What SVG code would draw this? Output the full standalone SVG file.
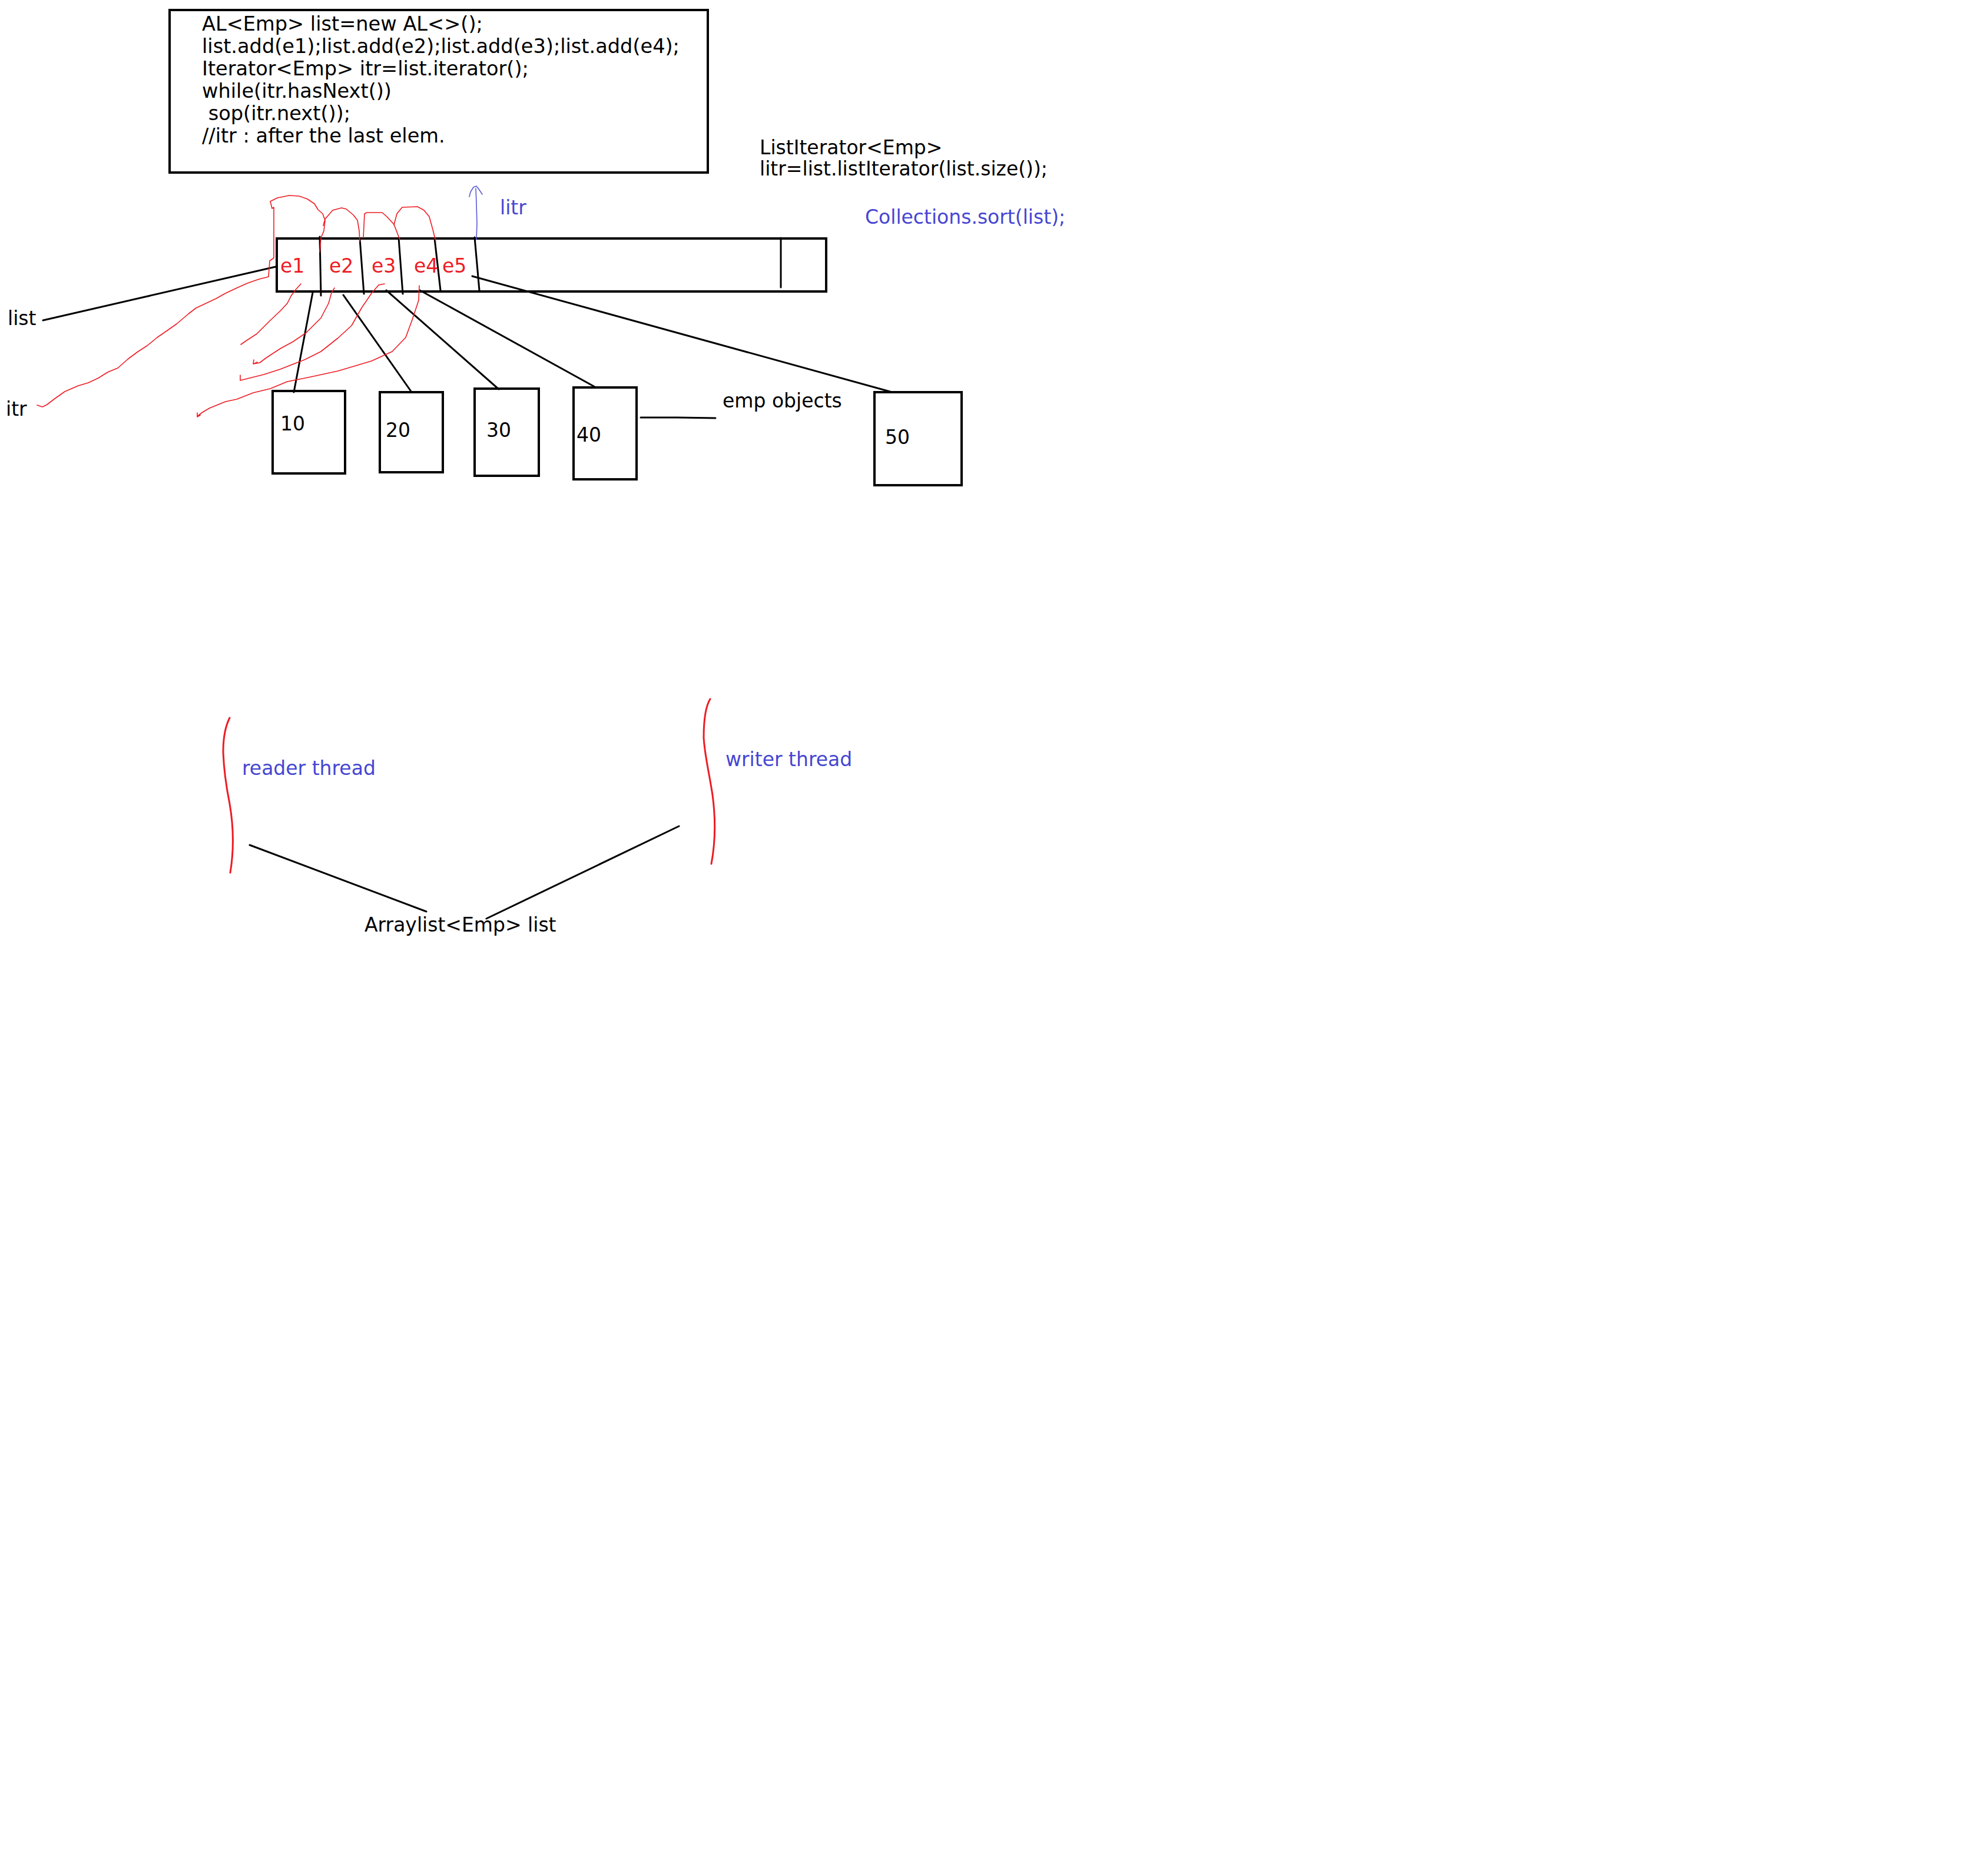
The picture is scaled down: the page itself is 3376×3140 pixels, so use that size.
<svg xmlns="http://www.w3.org/2000/svg" width="3376" height="3140" viewBox="0 0 3376 3140">
  <style>
    text { font-family: "DejaVu Sans", Verdana, sans-serif; font-size: 33px; fill: #000; }
    .code { font-size: 33.6px; }
    .blue { fill: #4646d2; }
    .red { fill: #ed1c24; }
    .box { fill: #fff; stroke: #000; stroke-width: 4; }
    .edge { fill: none; stroke: #000; stroke-width: 3; stroke-linecap: round; }
    .pen { fill: none; stroke: #ed1c24; stroke-width: 1.6; stroke-linejoin: round; stroke-linecap: round; }
    .brace { fill: none; stroke: #ed1c24; stroke-width: 3; stroke-linecap: round; }
    .bluepen { fill: none; stroke: #5a5ad8; stroke-width: 1.6; stroke-linecap: round; stroke-linejoin: round; }
  </style>
  <rect width="3376" height="3140" fill="#fff"/>

  <!-- code listing -->
  <g id="code-box">
    <rect class="box" x="288" y="17" width="914" height="276"/>
    <text class="code" x="343" y="52">AL&lt;Emp&gt; list=new AL&lt;&gt;();</text>
    <text class="code" x="343" y="90">list.add(e1);list.add(e2);list.add(e3);list.add(e4);</text>
    <text class="code" x="343" y="128">Iterator&lt;Emp&gt; itr=list.iterator();</text>
    <text class="code" x="343" y="166">while(itr.hasNext())</text>
    <text class="code" x="343" y="204" xml:space="preserve"> sop(itr.next());</text>
    <text class="code" x="343" y="242">//itr : after the last elem.</text>
  </g>

  <g id="list-iterator-note">
    <text x="1290" y="262" font-size="33.3">ListIterator&lt;Emp&gt;</text>
    <text x="1290" y="298" font-size="33.3">litr=list.listIterator(list.size());</text>
  </g>

  <g id="sort-note">
    <text class="blue" x="1469" y="380">Collections.sort(list);</text>
  </g>

  <!-- backing array with slots -->
  <g id="array">
    <rect class="box" x="470" y="405" width="933" height="90"/>
    <line class="edge" x1="543" y1="402" x2="545" y2="502"/>
    <line class="edge" x1="611" y1="405" x2="618" y2="499"/>
    <line class="edge" x1="677" y1="404" x2="684" y2="499"/>
    <line class="edge" x1="738" y1="405" x2="748" y2="493"/>
    <line class="edge" x1="806" y1="403" x2="814" y2="493"/>
    <line class="edge" x1="1326" y1="404" x2="1326" y2="488"/>
    <text class="red" x="476" y="463">e1</text>
    <text class="red" x="559" y="463">e2</text>
    <text class="red" x="631" y="463">e3</text>
    <text class="red" x="703" y="463">e4</text>
    <text class="red" x="751" y="463">e5</text>
  </g>

  <g id="label-list"><text x="13" y="552">list</text></g>
  <g id="label-itr"><text x="10" y="706">itr</text></g>
  <g id="label-litr"><text class="blue" x="849" y="364">litr</text></g>
  <g id="label-emp-objects"><text x="1227" y="692">emp objects</text></g>

  <!-- employee objects -->
  <g id="emp-10">
    <rect class="box" x="463" y="664" width="123" height="140"/>
    <text x="476" y="731">10</text>
  </g>
  <g id="emp-20">
    <rect class="box" x="645" y="666" width="107" height="136"/>
    <text x="655" y="742">20</text>
  </g>
  <g id="emp-30">
    <rect class="box" x="806" y="660" width="109" height="148"/>
    <text x="826" y="742">30</text>
  </g>
  <g id="emp-40">
    <rect class="box" x="974" y="658" width="107" height="156"/>
    <text x="979" y="750">40</text>
  </g>
  <g id="emp-50">
    <rect class="box" x="1485" y="666" width="148" height="158"/>
    <text x="1503" y="754">50</text>
  </g>

  <!-- thread sketch -->
  <g id="reader-thread">
    <path class="brace" d="M390,1219 C382,1235 379,1255 379,1277 C380,1305 383,1330 390,1365 C396,1400 398,1440 391,1482"/>
    <text class="blue" x="411" y="1316">reader thread</text>
  </g>
  <g id="writer-thread">
    <path class="brace" d="M1206,1187 C1198,1200 1195,1225 1195,1253 C1197,1285 1204,1310 1210,1350 C1216,1395 1214,1435 1208,1467"/>
    <text class="blue" x="1232" y="1301">writer thread</text>
  </g>
  <g id="arraylist-list">
    <text x="619" y="1582">Arraylist&lt;Emp&gt; list</text>
  </g>

  <!-- connectors -->
  <g id="connectors">
    <line class="edge" x1="73" y1="544" x2="468" y2="453" stroke-width="4"/>
    <line class="edge" x1="531" y1="497" x2="499" y2="666"/>
    <line class="edge" x1="583" y1="501" x2="699" y2="666"/>
    <line class="edge" x1="656" y1="493" x2="847" y2="661"/>
    <line class="edge" x1="713" y1="493" x2="1012" y2="658"/>
    <line class="edge" x1="802" y1="469" x2="1515" y2="666"/>
    <polyline class="edge" points="1088,709 1150,709 1215,710"/>
    <line class="edge" x1="424" y1="1435" x2="724" y2="1548"/>
    <line class="edge" x1="1153" y1="1403" x2="826" y2="1560"/>

    <!-- iterator cursor strokes -->
    <path class="pen" d="M63,688 L72,691 L80,687 L93,677 L110,665 L133,655 L150,650 L167,642 L183,632 L200,625 L217,610 L233,598 L250,587 L267,573 L283,562 L300,550 L320,533 L333,523 L367,507 L383,498 L400,490 L420,481 L440,474 L456,470 L458,443 L465,438 L465,352 L462,354 L459,342 L471,336 L491,332 L508,333 L522,338 L534,346 L540,356 L548,363 L552,374 L550,392 L545,404 L543,428"/>
    <path class="pen" d="M549,383 L552,372 L565,357 L580,353 L588,355 L600,365 L607,374 L610,392 L611,410"/>
    <path class="pen" d="M617,404 L619,363 L623,361 L649,361 L657,368 L669,381 L674,394 L679,407"/>
    <path class="pen" d="M669,382 L674,363 L683,352 L709,351 L720,357 L729,368 L735,390 L740,410"/>
    <path class="pen" d="M511,482 L502,492 L494,503 L488,515 L476,528 L459,544 L436,567 L419,578 L409,585"/>
    <path class="pen" d="M568,489 L563,497 L558,515 L545,540 L520,565 L498,580 L476,592 L453,607 L441,616 L430,618 M431,611 L430,618 L437,615"/>
    <path class="pen" d="M653,482 L643,484 L631,498 L614,523 L597,553 L574,574 L545,597 L517,611 L476,627 L448,636 L408,646 L408,637"/>
    <path class="pen" d="M712,485 L711,510 L700,543 L689,573 L666,597 L631,613 L574,630 L528,640 L488,648 L459,660 L430,667 L402,678 L383,682 L356,693 L344,700 L335,707 M335,701 L335,708 L340,705"/>

    <!-- list iterator cursor -->
    <path class="bluepen" d="M809,407 L810,380 L809,345 L808,320 M797,334 L799,326 L804,318 L809,316 L813,321 L819,330"/>
  </g>
</svg>
